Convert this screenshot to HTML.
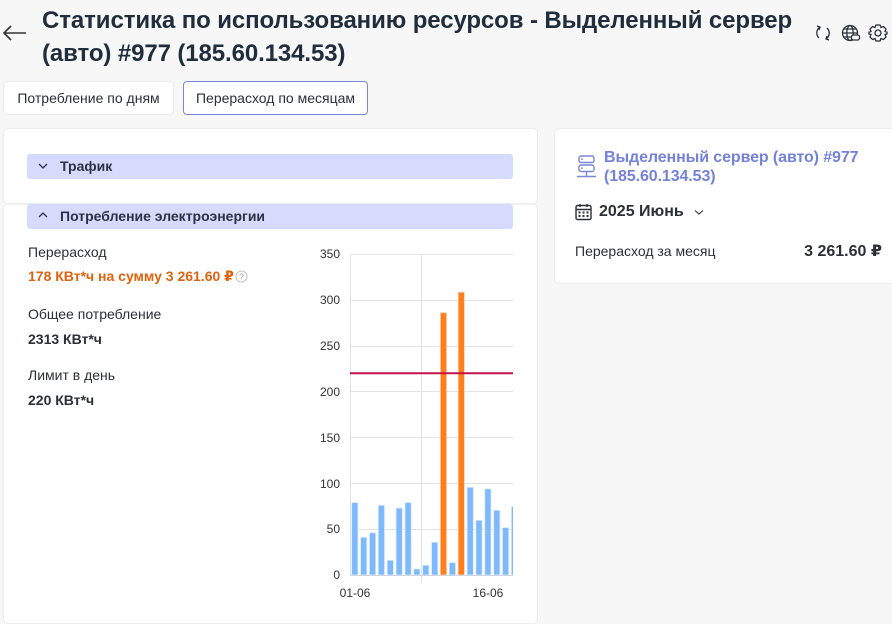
<!DOCTYPE html>
<html><head><meta charset="utf-8">
<style>
*{box-sizing:border-box;margin:0;padding:0}
html,body{width:892px;height:614px;overflow:hidden;background:#f7f7f8;font-family:"Liberation Sans","DejaVu Sans",sans-serif;color:#2b2f36}
.abs{position:absolute;white-space:nowrap}
.title{left:42px;top:4px;font-size:24px;font-weight:bold;color:#1f2d3d;line-height:33px;letter-spacing:-0.1px}
.btn{position:absolute;top:81px;height:34px;background:#fff;border:1px solid #ebebeb;border-radius:4px;font-size:14px;color:#2b2f36;line-height:32px;text-align:center}
.card{position:absolute;background:#fff;border:1px solid #ececec;border-radius:5px}
.hdr{position:absolute;left:27px;width:486px;height:25px;background:#d6dbfd;border-radius:3px;font-size:14px;font-weight:bold;color:#2a3342;line-height:25px;padding-left:33px}
.lbl{font-size:14px;color:#2b2f36}
.val{font-size:14px;font-weight:bold;color:#2b2f36}
</style></head><body>

<svg class="abs" style="left:2px;top:24px" width="26" height="18" viewBox="0 0 26 18"><path d="M2 9 H24 M9 2 L2 9 L9 16" fill="none" stroke="#333" stroke-width="1.6"/></svg>
<div class="abs title">Статистика по использованию ресурсов - Выделенный сервер<br>(авто) #977 (185.60.134.53)</div>

<svg class="abs" style="left:814px;top:22px" width="76" height="22" viewBox="0 0 76 22">
  <g fill="none" stroke="#2b2f36" stroke-width="1.3">
    <path d="M6 5 A7 7 0 0 0 5 16"/><path d="M3 4 L6 5 L5 8"/>
    <path d="M12 17 A7 7 0 0 0 13 6"/><path d="M15 18 L12 17 L13 14"/>
    <circle cx="36" cy="11" r="7.5"/><ellipse cx="36" cy="11" rx="3.2" ry="7.5"/><path d="M28.5 11 H43.5 M30 7 H42 M30 15 H42"/>
    <rect x="37.5" y="13" width="8" height="5" rx="2" fill="#fff"/>
    <circle cx="64" cy="11" r="3"/>
    <path d="M62 3 L66 3 L67 5.5 L69.5 4.5 L72 7 L71 9.5 L73 10 L73 12 L71 12.5 L72 15 L69.5 17.5 L67 16.5 L66 19 L62 19 L61 16.5 L58.5 17.5 L56 15 L57 12.5 L55 12 L55 10 L57 9.5 L56 7 L58.5 4.5 L61 5.5 Z"/>
  </g>
</svg>

<div class="btn" style="left:3px;width:171px">Потребление по дням</div>
<div class="btn" style="left:183px;width:185px;border-color:#7a86d6">Перерасход по месяцам</div>

<!-- left cards -->
<div class="card" style="left:3px;top:128px;width:535px;height:76px"></div>
<div class="card" style="left:3px;top:204px;width:535px;height:420px;border-top-color:#f4f4f4"></div>
<div class="hdr" style="top:154px">Трафик</div>
<svg class="abs" style="left:38px;top:162px" width="10" height="8"><path d="M1 2 L5 6 L9 2" fill="none" stroke="#2a3342" stroke-width="1.3"/></svg>
<div class="hdr" style="top:204px">Потребление электроэнергии</div>
<svg class="abs" style="left:38px;top:211px" width="10" height="8"><path d="M1 6 L5 2 L9 6" fill="none" stroke="#2a3342" stroke-width="1.3"/></svg>

<div class="abs lbl" style="left:28px;top:244px">Перерасход</div>
<div class="abs val" style="left:28px;top:268px;color:#e0620f">178 КВт*ч на сумму 3 261.60 ₽</div>
<svg class="abs" style="left:235px;top:270px" width="13" height="13"><circle cx="6.5" cy="6.5" r="5.5" fill="none" stroke="#c4c4c4"/><text x="6.5" y="9.5" font-size="8" text-anchor="middle" fill="#9a9a9a" font-family="Liberation Sans">?</text></svg>
<div class="abs lbl" style="left:28px;top:306px">Общее потребление</div>
<div class="abs val" style="left:28px;top:331px">2313 КВт*ч</div>
<div class="abs lbl" style="left:28px;top:367px">Лимит в день</div>
<div class="abs val" style="left:28px;top:392px">220 КВт*ч</div>

<!-- chart -->
<svg class="abs" style="left:0;top:0" width="892" height="614" viewBox="0 0 892 614">
  <defs><clipPath id="c"><rect x="300" y="240" width="213" height="374"/></clipPath></defs>
  <g font-family="Liberation Sans, sans-serif" font-size="12" fill="#333" text-anchor="end">
    <text x="340" y="258">350</text>
    <text x="340" y="304">300</text>
    <text x="340" y="350">250</text>
    <text x="340" y="396">200</text>
    <text x="340" y="442">150</text>
    <text x="340" y="488">100</text>
    <text x="340" y="533">50</text>
    <text x="340" y="579">0</text>
  </g>
  <g font-family="Liberation Sans, sans-serif" font-size="12" fill="#333" text-anchor="middle">
    <text x="355" y="597">01-06</text>
    <text x="488" y="597">16-06</text>
  </g>
  <g clip-path="url(#c)">
    <g stroke="#e3e3e3" stroke-width="1">
      <line x1="350" y1="254.5" x2="513" y2="254.5"/>
      <line x1="350" y1="300.5" x2="513" y2="300.5"/>
      <line x1="350" y1="346.5" x2="513" y2="346.5"/>
      <line x1="350" y1="391.5" x2="513" y2="391.5"/>
      <line x1="350" y1="437.5" x2="513" y2="437.5"/>
      <line x1="350" y1="483.5" x2="513" y2="483.5"/>
      <line x1="350" y1="529.5" x2="513" y2="529.5"/>
      <line x1="350.5" y1="254" x2="350.5" y2="575"/>
      <line x1="421.5" y1="254" x2="421.5" y2="583"/>
    </g>
    <g stroke="#d8e9ff" stroke-width="0.8" fill="#7eb8fd">
      <rect x="351.7" y="502.6" width="6.2" height="72.4"/>
      <rect x="360.6" y="537.4" width="6.2" height="37.6"/>
      <rect x="369.5" y="532.8" width="6.2" height="42.2"/>
      <rect x="378.3" y="505.3" width="6.2" height="69.7"/>
      <rect x="387.2" y="560.3" width="6.2" height="14.7"/>
      <rect x="396.1" y="508.1" width="6.2" height="66.9"/>
      <rect x="405.0" y="502.6" width="6.2" height="72.4"/>
      <rect x="413.8" y="569.0" width="6.2" height="6.0"/>
      <rect x="422.7" y="565.3" width="6.2" height="9.7"/>
      <rect x="431.6" y="542.3" width="6.2" height="32.7"/>
      <rect x="449.3" y="562.6" width="6.2" height="12.4"/>
      <rect x="467.1" y="487.3" width="6.2" height="87.7"/>
      <rect x="475.9" y="520.3" width="6.2" height="54.7"/>
      <rect x="484.8" y="488.9" width="6.2" height="86.1"/>
      <rect x="493.7" y="510.3" width="6.2" height="64.7"/>
      <rect x="502.5" y="527.6" width="6.2" height="47.4"/>
      <rect x="511.4" y="506.6" width="6.2" height="68.4"/>
    </g>
    <g stroke="#ffd2ad" stroke-width="0.8" fill="#ff7f1e">
      <rect x="440.4" y="312.7" width="6.2" height="262.3"/>
      <rect x="458.2" y="292.2" width="6.2" height="282.8"/>
    </g>
    <line x1="350" y1="575.5" x2="513" y2="575.5" stroke="#cfd6e0" stroke-width="1"/>
    <line x1="350" y1="373.3" x2="513" y2="373.3" stroke="#c4144e" stroke-width="2"/>
  </g>
</svg>

<!-- right card -->
<div class="card" style="left:554px;top:128px;width:345px;height:156px"></div>
<svg class="abs" style="left:576px;top:154px" width="22" height="26" viewBox="0 0 22 26">
  <g fill="none" stroke="#7a86d6" stroke-width="1.4">
    <rect x="3" y="2" width="15" height="6.5" rx="2"/>
    <rect x="3" y="11" width="15" height="6.5" rx="2"/>
    <path d="M10.5 17.5 V22 M1 22.5 H20"/>
  </g>
  <circle cx="6" cy="5.2" r="0.9" fill="#7a86d6"/><circle cx="6" cy="14.2" r="0.9" fill="#7a86d6"/>
</svg>
<div class="abs" style="left:604px;top:148px;font-size:16px;font-weight:bold;color:#7482d8;line-height:19px;letter-spacing:-0.1px">Выделенный сервер (авто) #977<br>(185.60.134.53)</div>
<svg class="abs" style="left:575px;top:203px" width="17" height="18" viewBox="0 0 17 18">
  <rect x="1" y="2.5" width="15" height="14" rx="1.5" fill="none" stroke="#2b2f36" stroke-width="1.4"/>
  <path d="M1 6.5 H16 M5 1 V4 M12 1 V4" stroke="#2b2f36" stroke-width="1.4"/>
  <g fill="#2b2f36"><rect x="3.5" y="8.5" width="2" height="2"/><rect x="7.5" y="8.5" width="2" height="2"/><rect x="11.5" y="8.5" width="2" height="2"/><rect x="3.5" y="12" width="2" height="2"/><rect x="7.5" y="12" width="2" height="2"/><rect x="11.5" y="12" width="2" height="2"/></g>
</svg>
<div class="abs" style="left:599px;top:202px;font-size:16px;font-weight:bold;color:#2b2f36;line-height:20px">2025 Июнь</div>
<svg class="abs" style="left:694px;top:209px" width="10" height="7"><path d="M1 1.5 L5 5 L9 1.5" fill="none" stroke="#2b2f36" stroke-width="1.1"/></svg>
<div class="abs lbl" style="left:575px;top:243px">Перерасход за месяц</div>
<div class="abs" style="right:10px;top:241px;font-size:16px;font-weight:bold;color:#2b2f36">3 261.60 ₽</div>

</body></html>
